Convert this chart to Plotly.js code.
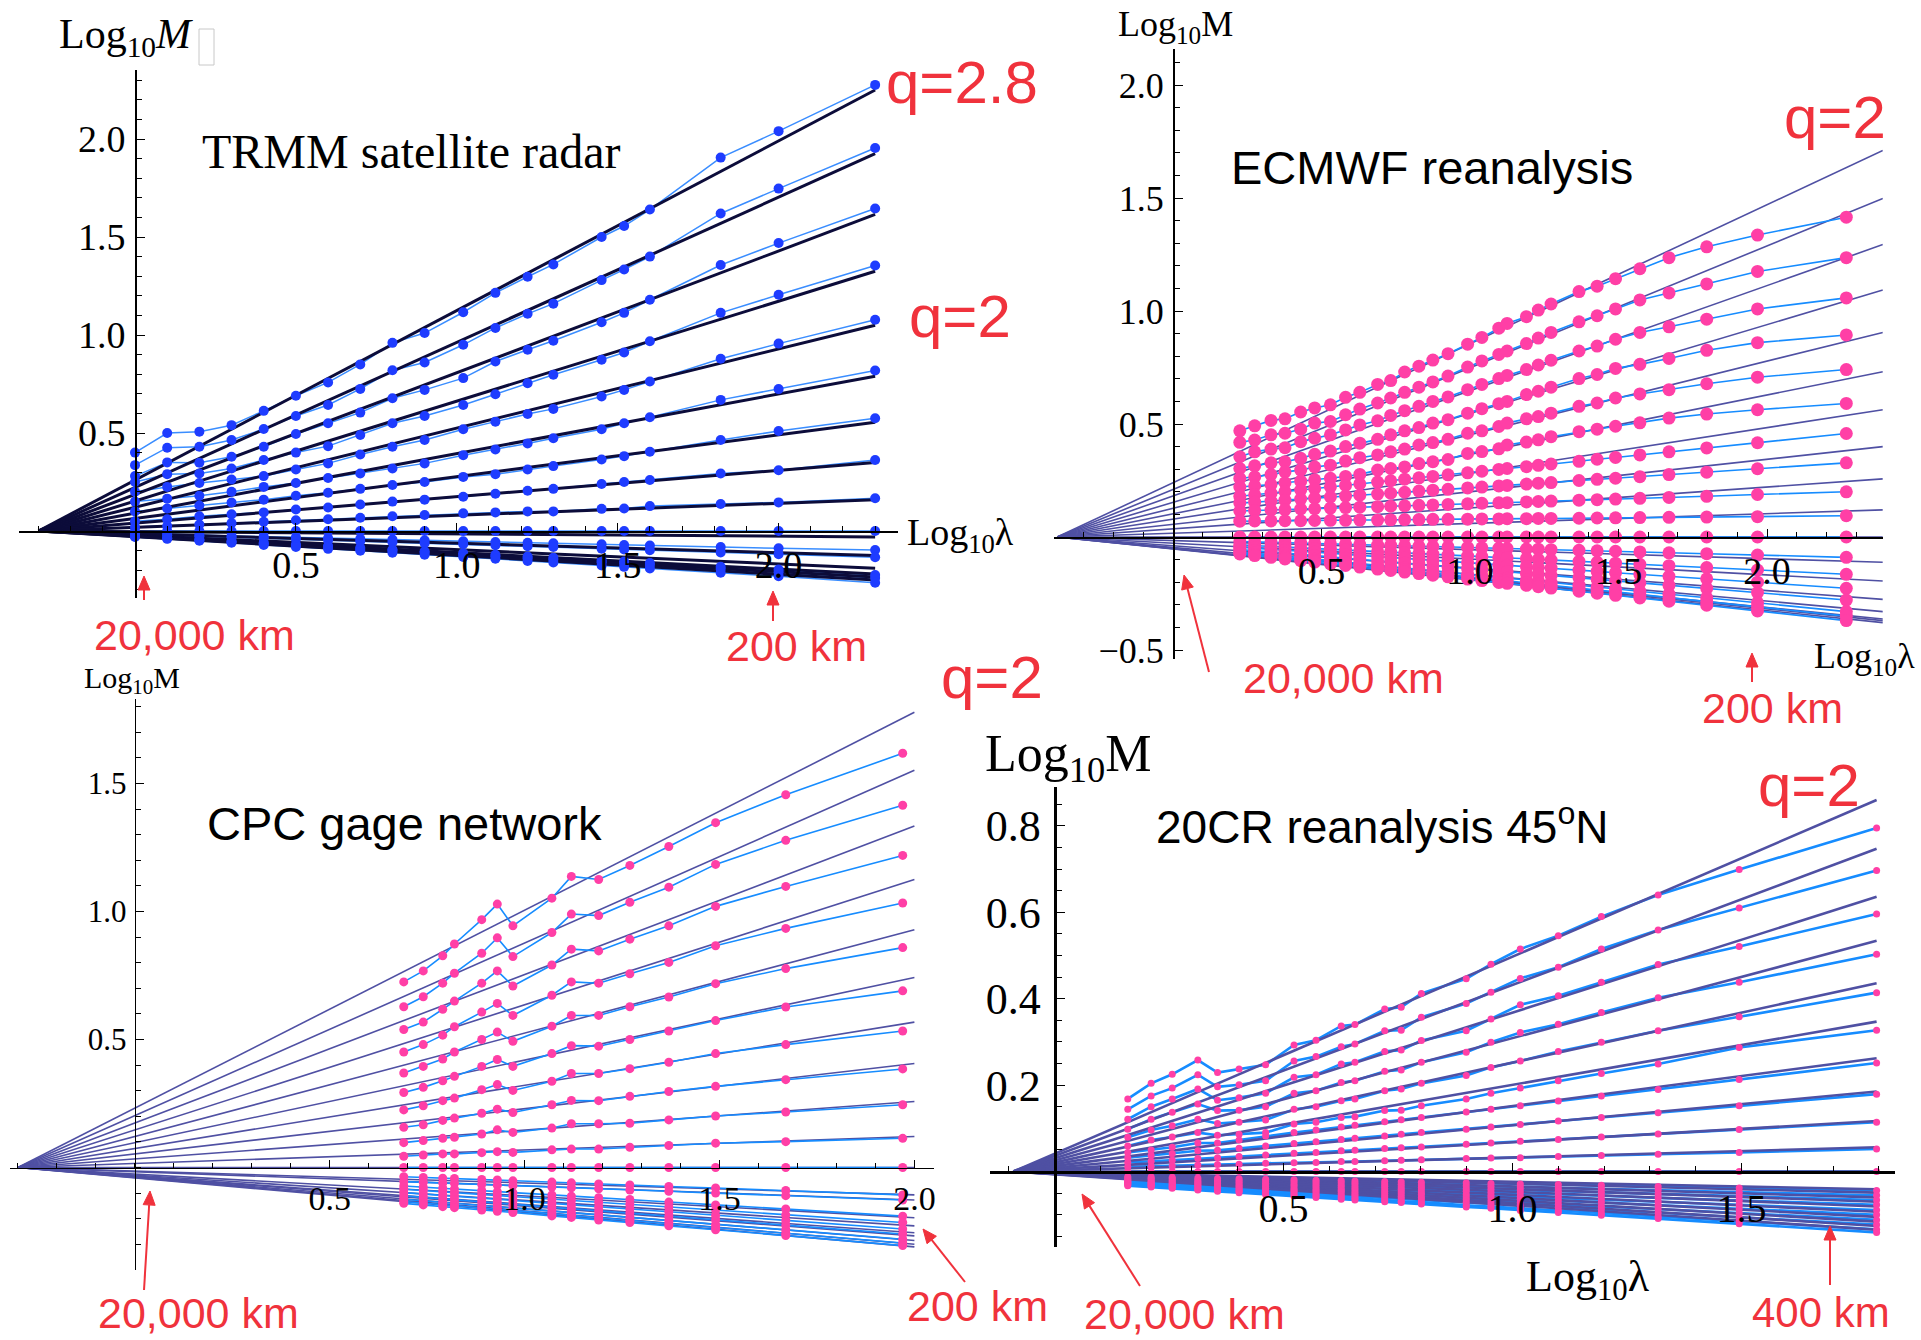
<!DOCTYPE html>
<html><head><meta charset="utf-8">
<script src="https://cdn.plot.ly/plotly-3.0.1.min.js"></script>
<style>html,body{margin:0;padding:0;background:#fff}#chart{width:1921px;height:1340px}</style>
</head><body><div id="chart"></div>
<script>
// ---------- Panel 1: TRMM satellite radar ----------
const trmmX = [0, 0.10, 0.20, 0.30, 0.40, 0.50, 0.60, 0.70, 0.80, 0.90, 1.02, 1.12, 1.22, 1.30, 1.45, 1.52, 1.60, 1.82, 2.00, 2.30];
const trmmObs = [
 [0.40,0.50,0.507,0.54,0.613,0.69,0.758,0.85,0.96,1.01,1.116,1.215,1.297,1.36,1.50,1.556,1.64,1.905,2.04,2.276],
 [0.336,0.425,0.43,0.464,0.52,0.587,0.643,0.725,0.82,0.86,0.95,1.036,1.108,1.16,1.28,1.334,1.40,1.62,1.747,1.954],
 [0.28,0.35,0.348,0.379,0.43,0.495,0.55,0.604,0.677,0.72,0.78,0.865,0.925,0.971,1.065,1.113,1.18,1.357,1.469,1.645],
 [0.25,0.29,0.293,0.319,0.362,0.40,0.433,0.49,0.55,0.587,0.643,0.698,0.754,0.797,0.874,0.911,0.968,1.113,1.205,1.355],
 [0.20,0.225,0.245,0.263,0.28,0.314,0.345,0.39,0.43,0.464,0.519,0.558,0.597,0.623,0.686,0.72,0.763,0.879,0.956,1.078],
 [0.15,0.165,0.18,0.20,0.225,0.245,0.27,0.293,0.319,0.345,0.387,0.416,0.447,0.473,0.519,0.55,0.58,0.669,0.724,0.819],
 [0.10,0.115,0.13,0.145,0.16,0.18,0.195,0.215,0.235,0.25,0.276,0.29,0.314,0.331,0.365,0.382,0.404,0.464,0.51,0.575],
 [0.05,0.06,0.075,0.085,0.095,0.11,0.12,0.135,0.15,0.16,0.175,0.19,0.205,0.215,0.24,0.25,0.26,0.293,0.31,0.362],
 [0.02,0.025,0.033,0.04,0.047,0.055,0.06,0.068,0.075,0.082,0.09,0.095,0.10,0.10,0.113,0.115,0.127,0.138,0.146,0.167],
 [0,0,0,0,0,0,0,0,0,0,0,0,0,0,0,0,0,0,0,0],
 [-0.012,-0.015,-0.02,-0.025,-0.028,-0.032,-0.036,-0.04,-0.044,-0.048,-0.052,-0.056,-0.06,-0.063,-0.068,-0.071,-0.074,-0.082,-0.088,-0.097],
 [-0.018,-0.022,-0.027,-0.032,-0.037,-0.042,-0.047,-0.052,-0.057,-0.062,-0.068,-0.073,-0.078,-0.082,-0.09,-0.094,-0.098,-0.11,-0.119,-0.134],
 [-0.026,-0.035,-0.043,-0.052,-0.06,-0.069,-0.077,-0.086,-0.094,-0.103,-0.113,-0.121,-0.13,-0.137,-0.15,-0.156,-0.163,-0.182,-0.197,-0.225],
 [-0.028,-0.037,-0.046,-0.055,-0.064,-0.074,-0.082,-0.092,-0.1,-0.11,-0.121,-0.129,-0.139,-0.146,-0.16,-0.166,-0.174,-0.194,-0.21,-0.24],
 [-0.03,-0.04,-0.05,-0.06,-0.071,-0.081,-0.091,-0.101,-0.111,-0.121,-0.133,-0.142,-0.153,-0.161,-0.176,-0.183,-0.191,-0.213,-0.231,-0.264]
];
const trmmFitX = [-0.3, 2.3];
const trmmFitEnd = [2.25, 1.925, 1.615, 1.325, 1.05, 0.79, 0.555, 0.35, 0.16, -0.03, -0.125, -0.19, -0.22, -0.235, -0.25];

// ---------- Panel 2: ECMWF reanalysis ----------
const ecmwfX = [0.225,0.275,0.33,0.377,0.43,0.477,0.53,0.581,0.629,0.689,0.733,0.78,0.828,0.875,0.926,0.992,1.04,1.097,1.125,1.19,1.23,1.273,1.367,1.428,1.49,1.572,1.67,1.797,1.968,2.267];
const ecmwfObs = [
 [0.47,0.492,0.516,0.523,0.553,0.571,0.585,0.618,0.64,0.675,0.692,0.73,0.756,0.783,0.811,0.853,0.883,0.924,0.945,0.975,1.004,1.031,1.086,1.11,1.143,1.187,1.236,1.284,1.336,1.415],
 [0.419,0.429,0.452,0.459,0.477,0.504,0.511,0.541,0.566,0.593,0.615,0.64,0.663,0.686,0.712,0.752,0.779,0.808,0.823,0.856,0.88,0.905,0.952,0.979,1.009,1.049,1.08,1.12,1.175,1.236],
 [0.355,0.377,0.389,0.395,0.422,0.437,0.452,0.474,0.496,0.514,0.538,0.559,0.578,0.6,0.62,0.652,0.675,0.701,0.715,0.741,0.761,0.782,0.823,0.845,0.875,0.905,0.93,0.964,1.009,1.058],
 [0.303,0.315,0.328,0.333,0.348,0.366,0.38,0.4,0.415,0.432,0.452,0.47,0.484,0.504,0.519,0.548,0.568,0.59,0.6,0.63,0.645,0.663,0.701,0.719,0.746,0.764,0.79,0.826,0.86,0.894],
 [0.259,0.266,0.276,0.288,0.296,0.31,0.318,0.336,0.351,0.363,0.377,0.389,0.407,0.418,0.432,0.459,0.47,0.489,0.504,0.523,0.533,0.548,0.578,0.593,0.615,0.633,0.652,0.678,0.707,0.741],
 [0.221,0.226,0.232,0.24,0.247,0.253,0.26,0.268,0.277,0.296,0.303,0.31,0.325,0.333,0.343,0.37,0.378,0.39,0.407,0.42,0.43,0.444,0.466,0.477,0.49,0.505,0.526,0.544,0.563,0.591],
 [0.18,0.187,0.194,0.201,0.208,0.214,0.222,0.228,0.235,0.243,0.249,0.256,0.262,0.268,0.275,0.284,0.291,0.299,0.303,0.311,0.317,0.323,0.335,0.344,0.352,0.363,0.377,0.394,0.417,0.458],
 [0.15,0.154,0.159,0.163,0.168,0.172,0.177,0.181,0.185,0.19,0.194,0.198,0.203,0.207,0.211,0.217,0.221,0.226,0.228,0.234,0.238,0.241,0.25,0.255,0.26,0.267,0.276,0.287,0.302,0.328],
 [0.115,0.117,0.119,0.121,0.124,0.125,0.128,0.13,0.132,0.134,0.136,0.138,0.14,0.142,0.144,0.147,0.149,0.151,0.152,0.155,0.157,0.159,0.163,0.165,0.168,0.171,0.175,0.18,0.188,0.2],
 [0.07,0.071,0.071,0.072,0.072,0.073,0.074,0.074,0.075,0.075,0.076,0.077,0.077,0.078,0.078,0.079,0.08,0.08,0.081,0.081,0.082,0.082,0.083,0.084,0.085,0.086,0.087,0.088,0.09,0.094],
 [0,0,0,0,0,0,0,0,0,0,0,0,0,0,0,0,0,0,0,0,0,0,0,0,0,0,0,0,0,0],
 [-0.02,-0.022,-0.024,-0.025,-0.027,-0.029,-0.03,-0.032,-0.034,-0.036,-0.037,-0.039,-0.041,-0.042,-0.044,-0.046,-0.048,-0.05,-0.051,-0.053,-0.054,-0.056,-0.059,-0.061,-0.063,-0.066,-0.07,-0.074,-0.08,-0.09],
 [-0.035,-0.038,-0.042,-0.045,-0.048,-0.051,-0.054,-0.058,-0.061,-0.065,-0.067,-0.07,-0.073,-0.076,-0.08,-0.084,-0.087,-0.091,-0.092,-0.096,-0.099,-0.102,-0.108,-0.112,-0.116,-0.121,-0.127,-0.135,-0.146,-0.165],
 [-0.045,-0.049,-0.054,-0.059,-0.063,-0.067,-0.072,-0.077,-0.081,-0.086,-0.09,-0.094,-0.099,-0.103,-0.107,-0.113,-0.118,-0.123,-0.125,-0.131,-0.135,-0.138,-0.147,-0.152,-0.158,-0.165,-0.174,-0.185,-0.2,-0.227],
 [-0.055,-0.06,-0.067,-0.072,-0.077,-0.083,-0.088,-0.094,-0.099,-0.106,-0.111,-0.116,-0.121,-0.126,-0.132,-0.139,-0.144,-0.151,-0.154,-0.161,-0.165,-0.17,-0.18,-0.187,-0.194,-0.203,-0.214,-0.227,-0.246,-0.279],
 [-0.065,-0.071,-0.079,-0.085,-0.092,-0.098,-0.105,-0.111,-0.117,-0.125,-0.131,-0.137,-0.143,-0.149,-0.156,-0.165,-0.171,-0.178,-0.182,-0.19,-0.195,-0.201,-0.213,-0.221,-0.229,-0.24,-0.253,-0.269,-0.291,-0.33],
 [-0.07,-0.077,-0.084,-0.091,-0.098,-0.105,-0.112,-0.119,-0.125,-0.134,-0.14,-0.146,-0.153,-0.159,-0.166,-0.175,-0.182,-0.19,-0.193,-0.202,-0.208,-0.214,-0.227,-0.235,-0.243,-0.255,-0.268,-0.286,-0.309,-0.35],
 [-0.075,-0.082,-0.09,-0.097,-0.105,-0.111,-0.119,-0.126,-0.133,-0.142,-0.148,-0.155,-0.162,-0.169,-0.176,-0.186,-0.193,-0.201,-0.205,-0.214,-0.22,-0.226,-0.24,-0.249,-0.258,-0.27,-0.284,-0.302,-0.327,-0.37]
];
const ecmwfFitX = [-0.39, 2.39];
const ecmwfFitEnd = [1.71, 1.498, 1.294, 1.093, 0.905, 0.731, 0.563, 0.40, 0.257, 0.12, 0, -0.112, -0.195, -0.276, -0.33, -0.363, -0.37, -0.379];

// ---------- Panel 3: CPC gage network ----------
const cpcX = [0.69, 0.74, 0.79, 0.82, 0.89, 0.93, 0.97, 1.07, 1.12, 1.19, 1.27, 1.37, 1.49, 1.67, 1.97];
const cpcObs = [
 [0.725,0.768,0.827,0.873,0.968,1.029,0.944,1.052,1.137,1.125,1.18,1.254,1.347,1.456,1.618],
 [0.628,0.667,0.72,0.759,0.837,0.897,0.824,0.918,0.99,0.984,1.036,1.095,1.184,1.278,1.415],
 [0.539,0.568,0.618,0.65,0.72,0.768,0.709,0.791,0.853,0.846,0.892,0.944,1.02,1.098,1.219],
 [0.451,0.48,0.517,0.55,0.607,0.641,0.594,0.673,0.725,0.72,0.757,0.801,0.866,0.934,1.033],
 [0.369,0.395,0.424,0.451,0.5,0.529,0.493,0.552,0.594,0.594,0.628,0.666,0.718,0.777,0.859],
 [0.293,0.313,0.339,0.356,0.395,0.422,0.395,0.445,0.476,0.474,0.5,0.533,0.574,0.627,0.69],
 [0.225,0.241,0.261,0.271,0.304,0.324,0.301,0.337,0.367,0.367,0.386,0.411,0.445,0.48,0.533],
 [0.157,0.167,0.184,0.193,0.212,0.228,0.215,0.245,0.262,0.261,0.278,0.297,0.317,0.343,0.385],
 [0.097,0.105,0.114,0.118,0.131,0.147,0.137,0.154,0.171,0.171,0.173,0.186,0.201,0.217,0.245],
 [0.044,0.049,0.053,0.053,0.058,0.062,0.059,0.069,0.072,0.072,0.079,0.086,0.095,0.101,0.114],
 [0,0,0,0,0,0,0,0,0,0,0,0,0,0,0],
 [-0.036,-0.039,-0.042,-0.043,-0.047,-0.049,-0.052,-0.057,-0.06,-0.064,-0.068,-0.074,-0.08,-0.09,-0.107],
 [-0.055,-0.058,-0.061,-0.062,-0.066,-0.069,-0.071,-0.076,-0.079,-0.083,-0.088,-0.093,-0.1,-0.11,-0.127],
 [-0.072,-0.077,-0.081,-0.084,-0.09,-0.094,-0.098,-0.107,-0.112,-0.118,-0.125,-0.135,-0.146,-0.162,-0.19],
 [-0.085,-0.09,-0.095,-0.098,-0.105,-0.109,-0.113,-0.124,-0.129,-0.136,-0.144,-0.154,-0.166,-0.185,-0.215],
 [-0.098,-0.104,-0.109,-0.112,-0.12,-0.125,-0.129,-0.14,-0.146,-0.154,-0.162,-0.173,-0.187,-0.207,-0.24],
 [-0.111,-0.117,-0.123,-0.126,-0.134,-0.139,-0.144,-0.155,-0.161,-0.169,-0.178,-0.19,-0.204,-0.225,-0.26],
 [-0.124,-0.13,-0.136,-0.14,-0.148,-0.153,-0.158,-0.17,-0.176,-0.185,-0.195,-0.207,-0.222,-0.243,-0.28],
 [-0.133,-0.139,-0.146,-0.15,-0.158,-0.163,-0.168,-0.181,-0.187,-0.196,-0.206,-0.219,-0.234,-0.257,-0.295],
 [-0.14,-0.146,-0.153,-0.157,-0.166,-0.171,-0.176,-0.189,-0.195,-0.205,-0.215,-0.228,-0.243,-0.266,-0.305]
];
const cpcFitX = [-0.3, 2.0];
const cpcFitEnd = [1.778, 1.552, 1.334, 1.125, 0.929, 0.742, 0.568, 0.406, 0.258, 0.121, 0, -0.107, -0.127, -0.196, -0.228, -0.255, -0.267, -0.285, -0.3, -0.31];

// ---------- Panel 4: 20CR reanalysis 45N ----------
const cr20X = [0.16,0.211,0.257,0.313,0.356,0.403,0.461,0.523,0.571,0.626,0.656,0.721,0.757,0.801,0.899,0.953,1.017,1.1,1.194,1.318,1.495,1.795];
const cr20Obs = [
 [0.168,0.204,0.225,0.258,0.229,0.237,0.247,0.293,0.304,0.337,0.34,0.376,0.38,0.412,0.446,0.48,0.515,0.546,0.59,0.64,0.699,0.795],
 [0.144,0.175,0.193,0.224,0.196,0.201,0.21,0.256,0.266,0.289,0.295,0.326,0.327,0.357,0.389,0.415,0.447,0.473,0.515,0.559,0.61,0.697],
 [0.121,0.15,0.168,0.191,0.165,0.171,0.181,0.218,0.224,0.249,0.253,0.278,0.281,0.303,0.326,0.353,0.386,0.407,0.438,0.479,0.521,0.596],
 [0.098,0.121,0.137,0.156,0.141,0.142,0.15,0.181,0.187,0.206,0.21,0.232,0.235,0.253,0.276,0.299,0.322,0.341,0.368,0.402,0.438,0.503],
 [0.079,0.096,0.106,0.121,0.111,0.114,0.119,0.144,0.15,0.164,0.168,0.187,0.191,0.204,0.222,0.241,0.256,0.278,0.299,0.326,0.358,0.414],
 [0.059,0.073,0.08,0.09,0.084,0.086,0.09,0.11,0.114,0.125,0.127,0.141,0.142,0.152,0.168,0.181,0.193,0.21,0.227,0.249,0.287,0.327],
 [0.044,0.05,0.056,0.066,0.066,0.073,0.082,0.09,0.096,0.103,0.107,0.115,0.12,0.125,0.138,0.144,0.152,0.163,0.175,0.19,0.213,0.251],
 [0.032,0.037,0.041,0.048,0.049,0.054,0.059,0.065,0.069,0.074,0.077,0.082,0.086,0.09,0.098,0.103,0.109,0.117,0.125,0.136,0.152,0.179],
 [0.021,0.024,0.026,0.03,0.032,0.035,0.038,0.042,0.044,0.048,0.049,0.053,0.055,0.057,0.063,0.066,0.07,0.074,0.08,0.087,0.097,0.114],
 [0.011,0.012,0.013,0.015,0.016,0.017,0.019,0.02,0.021,0.023,0.023,0.025,0.026,0.027,0.03,0.031,0.032,0.035,0.037,0.04,0.044,0.052],
 [0,0,0,0,0,0,0,0,0,0,0,0,0,0,0,0,0,0,0,0,0,0],
 [-0.012,-0.013,-0.014,-0.015,-0.016,-0.017,-0.018,-0.019,-0.02,-0.021,-0.022,-0.023,-0.024,-0.025,-0.026,-0.028,-0.029,-0.03,-0.032,-0.035,-0.038,-0.044],
 [-0.015,-0.016,-0.017,-0.019,-0.02,-0.021,-0.022,-0.024,-0.025,-0.026,-0.027,-0.029,-0.03,-0.031,-0.033,-0.034,-0.036,-0.038,-0.04,-0.043,-0.048,-0.055],
 [-0.018,-0.019,-0.021,-0.023,-0.024,-0.025,-0.027,-0.029,-0.03,-0.032,-0.033,-0.034,-0.036,-0.037,-0.04,-0.041,-0.043,-0.046,-0.048,-0.052,-0.057,-0.066],
 [-0.021,-0.023,-0.024,-0.026,-0.028,-0.029,-0.031,-0.033,-0.035,-0.037,-0.038,-0.04,-0.041,-0.043,-0.046,-0.048,-0.05,-0.053,-0.056,-0.061,-0.067,-0.077],
 [-0.023,-0.025,-0.027,-0.029,-0.031,-0.033,-0.035,-0.038,-0.04,-0.042,-0.043,-0.046,-0.047,-0.049,-0.053,-0.055,-0.058,-0.061,-0.065,-0.07,-0.077,-0.089],
 [-0.025,-0.027,-0.029,-0.032,-0.034,-0.036,-0.039,-0.042,-0.044,-0.046,-0.048,-0.051,-0.052,-0.054,-0.059,-0.061,-0.064,-0.068,-0.072,-0.078,-0.086,-0.1],
 [-0.027,-0.03,-0.032,-0.035,-0.037,-0.04,-0.043,-0.046,-0.048,-0.051,-0.053,-0.056,-0.058,-0.06,-0.065,-0.068,-0.072,-0.076,-0.081,-0.087,-0.096,-0.112],
 [-0.029,-0.032,-0.035,-0.038,-0.04,-0.043,-0.046,-0.05,-0.053,-0.056,-0.057,-0.061,-0.063,-0.066,-0.071,-0.075,-0.078,-0.083,-0.088,-0.096,-0.106,-0.123],
 [-0.031,-0.034,-0.037,-0.041,-0.043,-0.046,-0.05,-0.054,-0.057,-0.06,-0.062,-0.066,-0.069,-0.071,-0.078,-0.081,-0.085,-0.09,-0.096,-0.104,-0.115,-0.134],
 [-0.033,-0.036,-0.039,-0.043,-0.046,-0.049,-0.053,-0.057,-0.06,-0.064,-0.066,-0.07,-0.072,-0.075,-0.082,-0.085,-0.09,-0.095,-0.101,-0.109,-0.121,-0.141]
];
const cr20FitX = [-0.09, 1.795];
const cr20FitEnd = [0.86, 0.747, 0.636, 0.534, 0.436, 0.347, 0.262, 0.185, 0.117, 0.056, 0, -0.041, -0.049, -0.06, -0.07, -0.081, -0.093, -0.105, -0.116, -0.126, -0.135];

// ---------- tick labels ----------
const ticks1 = [0.5, 1.0, 1.5, 2.0];
const ticks2y = [-0.5, 0.5, 1.0, 1.5, 2.0];
const ticks3y = [0.5, 1.0, 1.5];
const ticks4x = [0.5, 1.0, 1.5];
const ticks4y = [0.2, 0.4, 0.6, 0.8];

// ================= building =================
const W = 1921, H = 1340;
const RED = '#f0323c';
const SERIF = 'Liberation Serif, Times New Roman, serif';
const SANS = 'Liberation Sans, Arial, sans-serif';

function lineTraces(xs, rows, ax, color, width) {
  return rows.map(r => ({type:'scatter', mode:'lines', x:xs, y:r, xaxis:'x'+ax, yaxis:'y'+ax,
    line:{color:color, width:width}, showlegend:false, hoverinfo:'skip'}));
}
function markerTraces(xs, rows, ax, color, size) {
  return rows.map(r => ({type:'scatter', mode:'markers', x:xs, y:r, xaxis:'x'+ax, yaxis:'y'+ax,
    marker:{color:color, size:size}, showlegend:false, hoverinfo:'skip', cliponaxis:false}));
}
function fitTraces(fx, ends, ax, color, width) {
  return ends.map(e => ({type:'scatter', mode:'lines', x:fx, y:[0, e], xaxis:'x'+ax, yaxis:'y'+ax,
    line:{color:color, width:width}, showlegend:false, hoverinfo:'skip'}));
}

const traces = [].concat(
  lineTraces(trmmX, trmmObs, '', '#3a8dff', 1.5),
  fitTraces(trmmFitX, trmmFitEnd, '', '#0c0c3a', 3),
  markerTraces(trmmX, trmmObs, '', '#1e3cff', 10),

  fitTraces(ecmwfFitX, ecmwfFitEnd, '2', '#4f50a3', 1.6),
  lineTraces(ecmwfX, ecmwfObs, '2', '#168cff', 1.6),
  markerTraces(ecmwfX, ecmwfObs, '2', '#ff3fa6', 13),

  fitTraces(cpcFitX, cpcFitEnd, '3', '#4f50a3', 1.6),
  lineTraces(cpcX, cpcObs, '3', '#168cff', 1.6),
  markerTraces(cpcX, cpcObs, '3', '#ff3fa6', 9),

  lineTraces(cr20X, cr20Obs, '4', '#168cff', 2.6),
  fitTraces(cr20FitX, cr20FitEnd, '4', '#4f50a3', 2.6),
  markerTraces(cr20X, cr20Obs, '4', '#ff3fa6', 7)
);

const layout = {width:W, height:H, margin:{l:0,r:0,t:0,b:0}, paper_bgcolor:'#fff', plot_bgcolor:'rgba(0,0,0,0)',
  showlegend:false, annotations:[], shapes:[]};

function panel(n, s) {
  const k = n === 1 ? '' : String(n);
  const common = {showline:true, linecolor:'#000', linewidth:s.lw, showgrid:false, zeroline:false,
    tickmode:'array', tickformat:'.1f', ticks:'inside', tickcolor:'#000', tickwidth:1, automargin:false, fixedrange:true};
  layout['xaxis'+k] = Object.assign({}, common, {
    domain:[(s.x0 + s.xr[0]*s.sx)/W, (s.x0 + s.xr[1]*s.sx)/W], range:s.xr,
    anchor:'free', position:1 - s.y0/H, tickvals:s.xtv, ticklen:s.tl,
    minor:{ticks:'inside', dtick:s.xmd, tick0:0, ticklen:Math.round(s.tl*0.6), tickcolor:'#000', showgrid:false},
    tickfont:{family:SERIF, size:s.xf, color:'#000'}, ticklabelstandoff:s.xso});
  layout['yaxis'+k] = Object.assign({}, common, {
    domain:[1 - (s.y0 - s.yr[0]*s.sy)/H, 1 - (s.y0 - s.yr[1]*s.sy)/H], range:s.yr,
    anchor:'free', position:s.x0/W, tickvals:s.ytv, ticklen:s.tl,
    minor:{ticks:'inside', dtick:s.ymd, tick0:0, ticklen:Math.round(s.tl*0.6), tickcolor:'#000', showgrid:false},
    tickfont:{family:SERIF, size:s.yf, color:'#000'}, ticklabelstandoff:s.yso});
}
panel(1, {x0:135, sx:321.8, xr:[-0.36, 2.37], y0:531, sy:196, yr:[-0.34, 2.35], xtv:ticks1, ytv:ticks1,
  xf:38, yf:38, lw:1.5, tl:8, xmd:0.1, ymd:0.1, xso:0, yso:2});
panel(2, {x0:1173, sx:297, xr:[-0.40, 2.39], y0:537, sy:226, yr:[-0.54, 2.16], xtv:ticks1, ytv:ticks2y,
  xf:38, yf:36, lw:1.5, tl:8, xmd:0.1, ymd:0.1, xso:0, yso:2});
panel(3, {x0:134.8, sx:389.8, xr:[-0.32, 2.05], y0:1167.5, sy:256, yr:[-0.40, 1.83], xtv:ticks1, ytv:ticks3y,
  xf:34, yf:31, lw:1.5, tl:8, xmd:0.1, ymd:0.1, xso:0, yso:2});
panel(4, {x0:1054.5, sx:458, xr:[-0.14, 1.835], y0:1171.5, sy:432, yr:[-0.175, 0.89], xtv:ticks4x, ytv:ticks4y,
  xf:40, yf:44, lw:3, tl:8, xmd:0.1, ymd:0.05, xso:0, yso:4});

function txt(text, cx, cy, size, color, family) {
  layout.annotations.push({text:text, xref:'paper', yref:'paper', x:cx/W, y:1 - cy/H,
    xanchor:'center', yanchor:'middle', showarrow:false, font:{family:family, size:size, color:color}});
}
// red arrow drawn as shapes: shaft + filled head (tail -> head, in page pixels)
function arrow(hx, hy, tx, ty) {
  const dx = hx - tx, dy = hy - ty, len = Math.hypot(dx, dy), ux = dx/len, uy = dy/len;
  const hl = 14, hw = 6;
  const bx = hx - ux*hl, by = hy - uy*hl;
  const p = (x, y) => (x/W) + ',' + (1 - y/H);
  layout.shapes.push({type:'line', xref:'paper', yref:'paper', x0:tx/W, y0:1-ty/H, x1:bx/W, y1:1-by/H,
    line:{color:RED, width:2}});
  layout.shapes.push({type:'path', xref:'paper', yref:'paper',
    path:'M' + p(hx, hy) + ' L' + p(bx - uy*hw, by + ux*hw) + ' L' + p(bx + uy*hw, by - ux*hw) + ' Z',
    fillcolor:RED, line:{color:RED, width:1}});
}

// Panel 1 texts
txt('Log<sub>10</sub><i>M</i>', 126, 37, 42, '#000', SERIF);
txt('TRMM satellite radar', 411, 151, 48, '#000', SERIF);
txt('q=2.8', 962, 83, 60, RED, SANS);
txt('q=2', 960, 316, 60, RED, SANS);
txt('Log<sub>10</sub>λ', 960, 535, 38, '#000', SERIF);
txt('20,000 km', 194, 635, 43, RED, SANS);
txt('200 km', 796, 646, 43, RED, SANS);
arrow(144, 576, 144, 600);
arrow(773, 591, 773, 621);
layout.shapes.push({type:'rect', xref:'paper', yref:'paper', x0:199/W, x1:214/W, y0:1-65/H, y1:1-29/H,
  line:{color:'#c8c8c8', width:1}});

// Panel 2 texts
txt('Log<sub>10</sub>M', 1175, 27, 36, '#000', SERIF);
txt('ECMWF reanalysis', 1432, 168, 47, '#000', SANS);
txt('q=2', 1835, 118, 60, RED, SANS);
txt('Log<sub>10</sub>λ', 1864, 658, 36, '#000', SERIF);
txt('20,000 km', 1343, 678, 43, RED, SANS);
txt('200 km', 1772, 708, 43, RED, SANS);
arrow(1184, 575, 1209, 672);
arrow(1752, 653, 1752, 682);

// Panel 3 texts
txt('Log<sub>10</sub>M', 132, 680, 30, '#000', SERIF);
txt('CPC gage network', 404, 823, 47, '#000', SANS);
txt('q=2', 992, 678, 60, RED, SANS);
txt('20,000 km', 198, 1313, 43, RED, SANS);
txt('200 km', 977, 1306, 43, RED, SANS);
arrow(150, 1191, 144, 1290);
arrow(923, 1229, 965, 1282);

// Panel 4 texts
txt('Log<sub>10</sub>M', 1068, 757, 52, '#000', SERIF);
txt('20CR reanalysis 45<sup>o</sup>N', 1382, 824, 46, '#000', SANS);
txt('q=2', 1809, 785, 60, RED, SANS);
txt('Log<sub>10</sub>λ', 1588, 1279, 44, '#000', SERIF);
txt('20,000 km', 1184, 1314, 43, RED, SANS);
txt('400 km', 1821, 1312, 42, RED, SANS);
arrow(1082, 1194, 1140, 1286);
arrow(1830, 1226, 1830, 1285);

Plotly.newPlot('chart', traces, layout, {staticPlot:true, displayModeBar:false});
</script></body></html>
